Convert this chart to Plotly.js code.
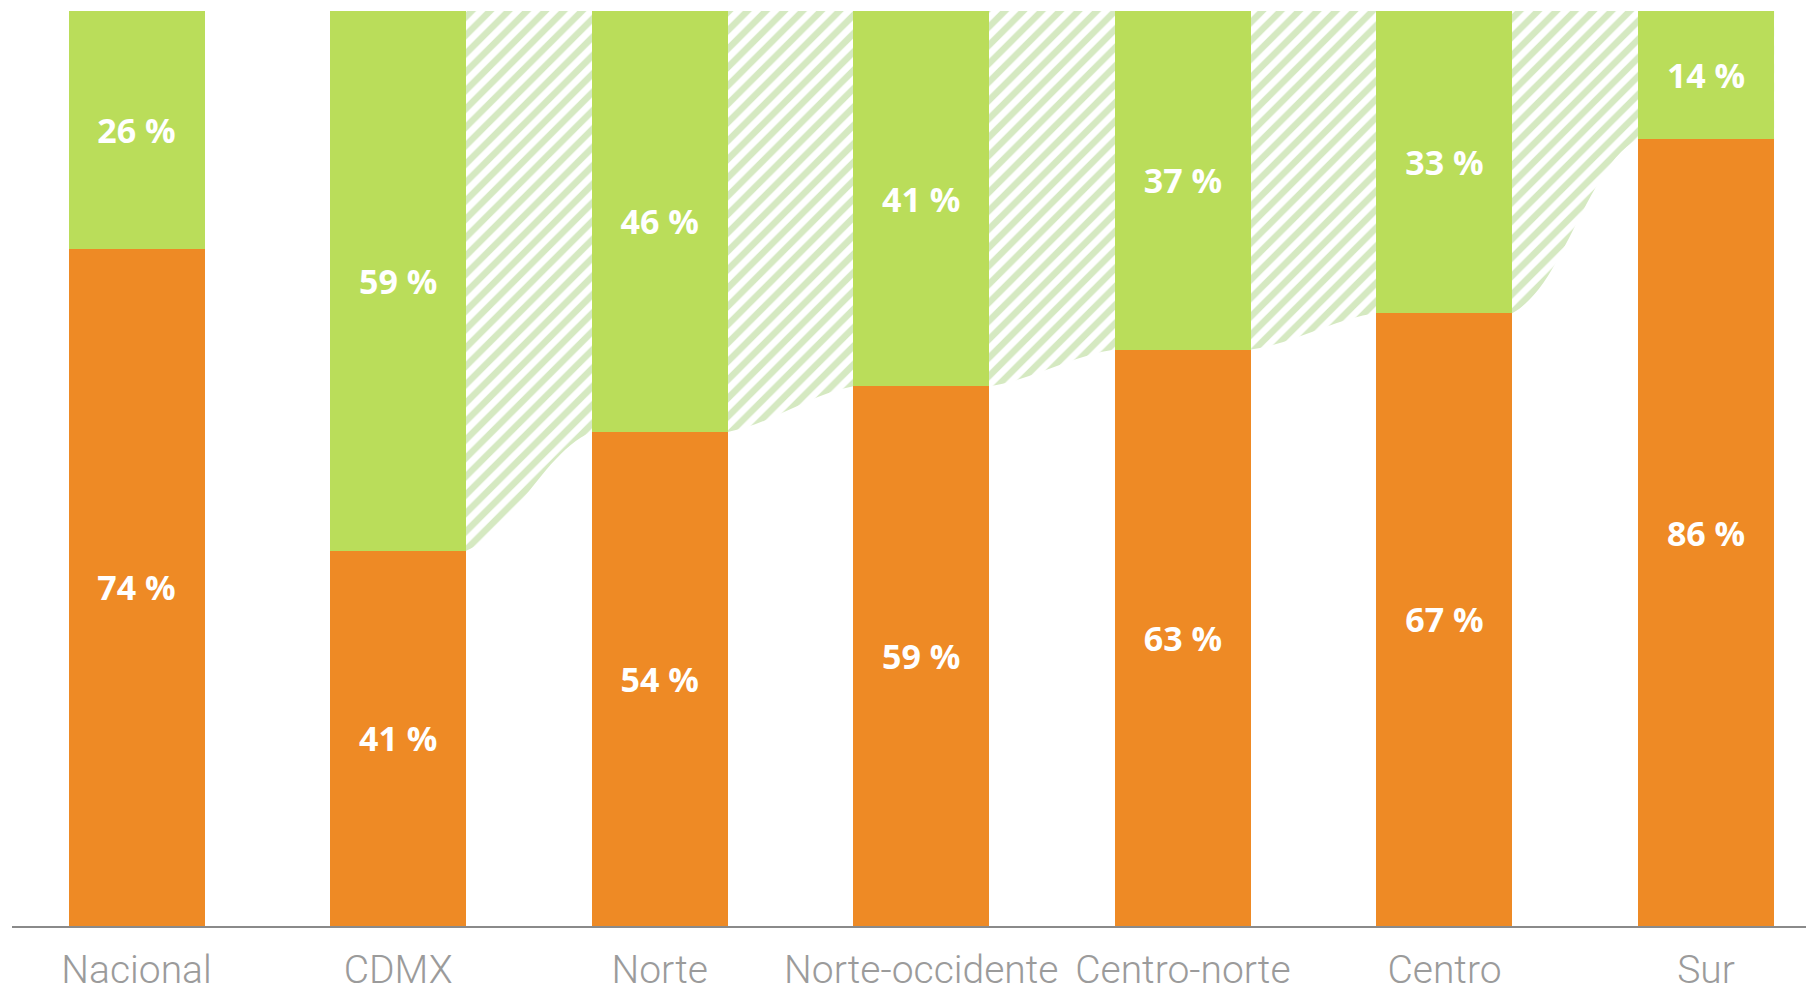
<!DOCTYPE html>
<html>
<head>
<meta charset="utf-8">
<script src="https://cdn.plot.ly/plotly-3.0.1.min.js"></script>
<style>
  html, body { margin: 0; padding: 0; background: #ffffff; }
  #chart { width: 1806px; height: 994px; }
</style>
</head>
<body>
<div id="chart"></div>
<script>
// ---- data ----
const categories = ['Nacional', 'CDMX', 'Norte', 'Norte-occidente', 'Centro-norte', 'Centro', 'Sur'];
const orangeValues = [74, 41, 54, 59, 63, 67, 86];
const greenValues = [26, 59, 46, 41, 37, 33, 14];

// ---- styles ----
const ORANGE = '#ee8a25';
const GREEN = '#badd5a';
const HATCH = '#d5e9c1';
const BAR_WIDTH = 0.52;
const X_RANGE = [-0.476, 6.382];

const labelFont = { family: 'Open Sans, sans-serif', size: 34, color: '#ffffff', weight: 700 };

// hatched band: from CDMX onward, bottom edge follows the orange tops at each bar's edges
const hatchX = [];
const hatchY = [];
for (let i = 1; i < categories.length; i++) {
  hatchX.push(i - BAR_WIDTH / 2, i + BAR_WIDTH / 2);
  hatchY.push(orangeValues[i], orangeValues[i]);
}
const topX = [hatchX[0], hatchX[hatchX.length - 1]];
const topY = [100, 100];

const traces = [
  {
    type: 'scatter', x: hatchX, y: hatchY, xaxis: 'x', yaxis: 'y',
    mode: 'lines', line: { width: 0, shape: 'spline', smoothing: 1 },
    hoverinfo: 'skip', showlegend: false
  },
  {
    type: 'scatter', x: topX, y: topY, xaxis: 'x', yaxis: 'y',
    mode: 'lines', line: { width: 0 },
    fill: 'tonexty', fillcolor: 'rgba(255,255,255,0)',
    fillpattern: { shape: '/', fgcolor: HATCH, bgcolor: 'rgba(255,255,255,0)', size: 13, solidity: 0.5 },
    hoverinfo: 'skip', showlegend: false
  },
  {
    type: 'bar', x: categories, y: orangeValues, xaxis: 'x2', yaxis: 'y',
    width: BAR_WIDTH,
    marker: { color: ORANGE, line: { width: 0 } },
    text: orangeValues.map(v => v + ' %'),
    textposition: 'inside', insidetextanchor: 'middle',
    textfont: labelFont, textangle: 0,
    hoverinfo: 'skip', showlegend: false
  },
  {
    type: 'bar', x: categories, y: greenValues, xaxis: 'x2', yaxis: 'y',
    width: BAR_WIDTH,
    marker: { color: GREEN, line: { width: 0 } },
    text: greenValues.map(v => v + ' %'),
    textposition: 'inside', insidetextanchor: 'middle',
    textfont: labelFont, textangle: 0,
    hoverinfo: 'skip', showlegend: false
  }
];

const layout = {
  width: 1806, height: 994,
  margin: { l: 12, r: 0, t: 11, b: 68, pad: 0 },
  paper_bgcolor: '#ffffff', plot_bgcolor: '#ffffff',
  barmode: 'stack',
  showlegend: false,
  xaxis: {
    type: 'linear', range: X_RANGE, visible: false, fixedrange: true
  },
  xaxis2: {
    type: 'category', overlaying: 'x', anchor: 'y', side: 'bottom',
    range: X_RANGE,
    showgrid: false, zeroline: false,
    showline: true, linecolor: '#8a8a8a', linewidth: 1.5,
    ticks: '', ticklabelstandoff: 9,
    tickfont: { family: 'Roboto, Liberation Sans, sans-serif', size: 39, color: '#9b9b9b', weight: 300 },
    automargin: false, fixedrange: true
  },
  yaxis: {
    range: [0, 100], visible: false, showgrid: false, zeroline: false, fixedrange: true
  }
};

Plotly.newPlot('chart', traces, layout, { displayModeBar: false, staticPlot: true });
</script>
</body>
</html>
